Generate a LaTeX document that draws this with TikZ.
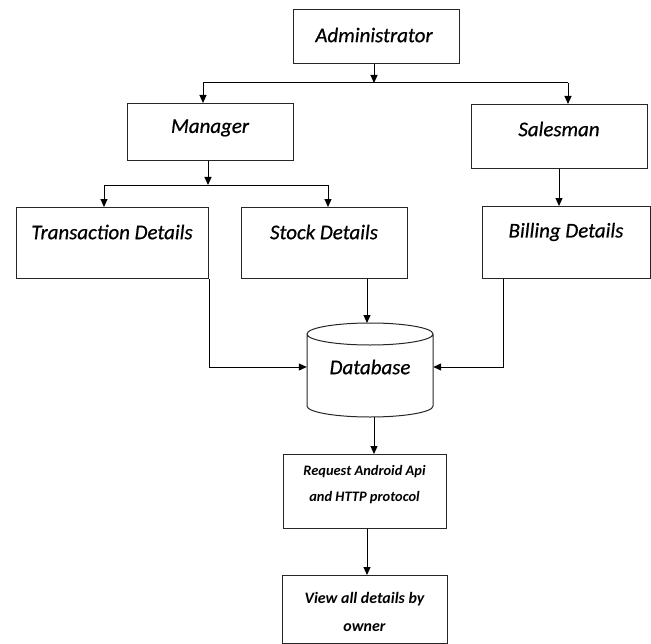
\documentclass[tikz,border=0pt]{standalone}
\usepackage{fontspec}
\setmainfont{Carlito}
\usetikzlibrary{arrows.meta}
\begin{document}
\begin{tikzpicture}[x=1bp,y=-1bp,
  box/.style={draw=black!85,line width=1bp,inner sep=0pt,anchor=north west},
  lbl/.style={font=\fontsize{21}{25}\selectfont\itshape\addfontfeatures{FakeBold=0.6},inner sep=0pt},
  small/.style={font=\fontsize{14.5}{26}\selectfont\bfseries\itshape,inner sep=0pt,align=center},
  conn/.style={line width=1bp,-{Triangle[length=8bp,width=7bp]}},
  line/.style={line width=1bp}]
\useasboundingbox (0,0) rectangle (651,644);
% boxes
\node[box,minimum width=166bp,minimum height=54bp] (admin) at (293,9) {};
\node[lbl] at (374,35) {Administrator};
\node[box,minimum width=166bp,minimum height=57bp] (man) at (127,103) {};
\node[lbl] at (210,128) {Manager};
\node[box,minimum width=176bp,minimum height=64bp] (sales) at (471,104) {};
\node[lbl] at (559,129) {Salesman};
\node[box,minimum width=192bp,minimum height=71bp] (trans) at (16,207) {};
\node[lbl] at (112,232) {Transaction Details};
\node[box,minimum width=166bp,minimum height=71bp] (stock) at (241,207) {};
\node[lbl] at (324,232) {Stock Details};
\node[box,minimum width=168bp,minimum height=72bp] (bill) at (482,206) {};
\node[lbl] at (566,232) {Billing Details};
% database cylinder
\node[minimum width=126bp,minimum height=88bp,inner sep=0pt] (db) at (370,367) {};
\draw[line width=1bp,draw=black!85] (307,334) -- (307,406) arc[start angle=180,end angle=0,x radius=63,y radius=11] -- (433,334)
  (370,334) ellipse[x radius=63,y radius=11];
\node[lbl] at (370,367) {Database};
\node[box,minimum width=163bp,minimum height=74bp] (req) at (283,454) {};
\node[small] at (364.5,485) {Request Android Api\\and HTTP protocol};
\node[box,minimum width=165bp,minimum height=68bp] (view) at (282,575) {};
\node[small,font=\fontsize{16}{29}\selectfont\bfseries\itshape] at (364.5,612) {View all details by\\owner};
% connectors
\coordinate (j1) at (374,83);
\draw[conn] (admin.south -| j1) -- (j1);
\draw[line] (203,83) -- (568,83);
\draw[conn] (203,83) -- (203,103);
\draw[conn] (568,83) -- (sales.north -| 568,0);
\coordinate (j2) at (208,185);
\draw[conn] (man.south -| j2) -- (j2);
\draw[line] (104,185) -- (328,185);
\draw[conn] (104,185) -- (trans.north -| 104,0);
\draw[conn] (328,185) -- (stock.north -| 328,0);
\draw[conn] (sales.south -| 559,0) -- (bill.north -| 559,0);
\draw[conn] (trans.south east) |- (db.west);
\draw[conn] (stock.south -| 367,0) -- (367,323);
\draw[conn] (bill.south -| 503,0) |- (db.east);
\draw[conn] (374,417) -- (req.north -| 374,0);
\draw[conn] (req.south -| 367,0) -- (view.north -| 367,0);
\end{tikzpicture}
\end{document}
